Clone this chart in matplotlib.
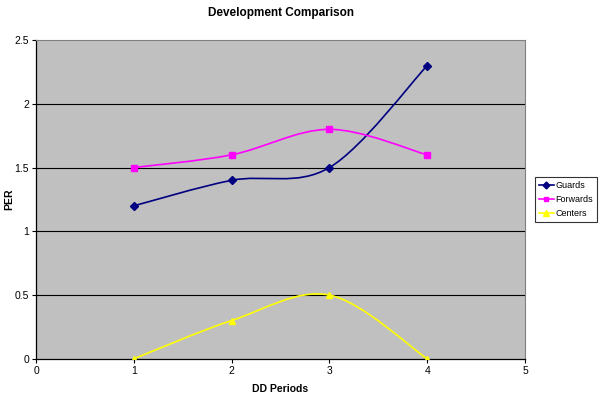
import matplotlib
matplotlib.use("Agg")
import matplotlib.pyplot as plt
from matplotlib.path import Path
from matplotlib.patches import PathPatch
import numpy as np

plt.rcParams['font.family'] = ['Liberation Sans', 'DejaVu Sans']

periods = [1, 2, 3, 4]
guards = [1.2, 1.4, 1.5, 2.3]
forwards = [1.5, 1.6, 1.8, 1.6]
centers = [0, 0.3, 0.5, 0]

series = [
    ("Guards", guards, "#000080", "D", 4),
    ("Forwards", forwards, "#FF00FF", "s", 4),
    ("Centers", centers, "#FFFF00", "^", 5),
]


def smooth_path(x, y):
    # Excel-like smoothed line: cubic bezier, control points from neighbours
    x = np.asarray(x, float)
    y = np.asarray(y, float)
    n = len(x)
    verts = [(x[0], y[0])]
    codes = [Path.MOVETO]
    for i in range(n - 1):
        p0 = np.array([x[max(i - 1, 0)], y[max(i - 1, 0)]])
        p1 = np.array([x[i], y[i]])
        p2 = np.array([x[i + 1], y[i + 1]])
        p3 = np.array([x[min(i + 2, n - 1)], y[min(i + 2, n - 1)]])
        c1 = p1 + (p2 - p0) / 6
        c2 = p2 - (p3 - p1) / 6
        verts += [tuple(c1), tuple(c2), tuple(p2)]
        codes += [Path.CURVE4] * 3
    return Path(verts, codes)


fig = plt.figure(figsize=(6, 3.93), dpi=100)
ax = fig.add_axes([0.06, 0.087, 0.815, 0.811])
ax.set_facecolor("#C0C0C0")

for y in [0.5, 1, 1.5, 2]:
    ax.axhline(y, color="black", lw=0.8, zorder=1)

handles = []
for name, vals, col, mk, ms in series:
    ax.add_patch(PathPatch(smooth_path(periods, vals), fill=False,
                           edgecolor=col, lw=1.2, zorder=2))
    ax.plot(periods, vals, ls="none", marker=mk, color=col,
            markersize=ms, zorder=3)
    handles.append(ax.plot([], [], color=col, marker=mk, markersize=ms - 0.5,
                           lw=1.2)[0])

ax.set_xlim(0, 5)
ax.set_ylim(0, 2.5)
ax.set_xticks([0, 1, 2, 3, 4, 5])
ax.set_yticks([0, 0.5, 1, 1.5, 2, 2.5])
ax.set_yticklabels(["0", "0.5", "1", "1.5", "2", "2.5"])
ax.tick_params(labelsize=7.5, length=3, width=0.8, pad=2)

for s in ["top", "right"]:
    ax.spines[s].set_color("#808080")
    ax.spines[s].set_linewidth(0.8)
for s in ["left", "bottom"]:
    ax.spines[s].set_color("black")
    ax.spines[s].set_linewidth(0.9)

ax.set_title("Development Comparison", fontsize=8.5, fontweight="bold", pad=17)
ax.set_xlabel("DD Periods", fontsize=7.5, fontweight="bold", labelpad=6)
ax.set_ylabel("PER", fontsize=7.5, fontweight="bold")
ax.yaxis.set_label_coords(-0.045, 0.5)

leg = fig.legend(handles, [s[0] for s in series], loc="upper left",
                 bbox_to_anchor=(0.891, 0.55), fontsize=6.5, frameon=True,
                 fancybox=False, edgecolor="black", handlelength=1.7,
                 handletextpad=0.15, borderpad=0.45, labelspacing=0.55,
                 borderaxespad=0)
leg.get_frame().set_linewidth(0.8)

fig.savefig("out.png", dpi=100)
